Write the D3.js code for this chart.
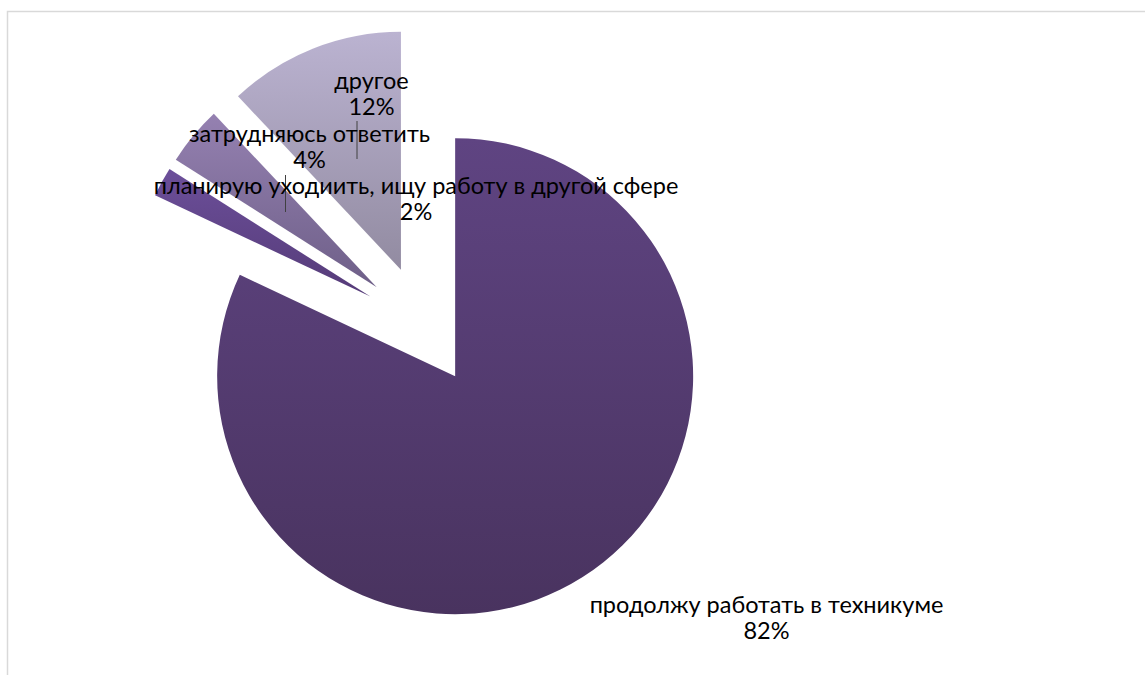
<!DOCTYPE html>
<html>
<head>
<meta charset="utf-8">
<script src="https://cdn.jsdelivr.net/npm/d3@7/dist/d3.min.js"></script>
<style>
  html, body { margin: 0; padding: 0; background: #ffffff; }
  svg { display: block; }
  text { font-family: Lato, "Open Sans", sans-serif; fill: #000000; }
</style>
</head>
<body>
<svg id="chart" width="1145" height="675"></svg>
<script>
// ---- data ----
const categories = [
  "продолжу работать в техникуме",
  "планирую уходиить, ищу работу в другой сфере",
  "затрудняюсь ответить",
  "другое"
];
const values = [82, 2, 4, 12];
const percentLabels = ["82%", "2%", "4%", "12%"];

// ---- styles / layout ----
const gradTop = ["#5f4482", "#6c4f9a", "#9581b1", "#bbb3d1"];
const gradBot = ["#49335f", "#553b78", "#6e5f88", "#928ba1"];
const cx = 423, cy = 325.5, radius = 238, explode = 60;
const fontSize = 23.5, lineGap = 26;
// label anchor (centre x, baseline of first line) for each slice
const labelPos = [[766.5, 613], [416, 194], [309.5, 142], [371.5, 89]];
// leader lines [x, y1, y2] (null = none)
const leaders = [null, [285.5, 175, 212], null, [357, 121, 159]];

const svg = d3.select("#chart");

// frame
svg.append("rect")
  .attr("x", 7.5).attr("y", 11.5)
  .attr("width", 1150).attr("height", 680)
  .attr("fill", "none").attr("stroke", "#d9d9d9").attr("stroke-width", 1.5);

const defs = svg.append("defs");
categories.forEach((c, i) => {
  const g = defs.append("linearGradient").attr("id", "g" + i)
    .attr("x1", 0).attr("y1", 0).attr("x2", 0).attr("y2", 1);
  g.append("stop").attr("offset", "0%").attr("stop-color", gradTop[i]);
  g.append("stop").attr("offset", "100%").attr("stop-color", gradBot[i]);
});

const pie = d3.pie().sort(null).value(d => d.v).startAngle(0).endAngle(2 * Math.PI);
const arcs = pie(values.map((v, i) => ({ v, i })));
const arc = d3.arc().innerRadius(0).outerRadius(radius);

const gPie = svg.append("g").attr("transform", `translate(${cx},${cy})`);
gPie.selectAll("path").data(arcs).join("path")
  .attr("d", arc)
  .attr("fill", d => `url(#g${d.data.i})`)
  .attr("transform", d => {
    const mid = (d.startAngle + d.endAngle) / 2;
    return `translate(${explode * Math.sin(mid)},${-explode * Math.cos(mid)})`;
  });

// leader lines
leaders.forEach(l => {
  if (!l) return;
  svg.append("line")
    .attr("x1", l[0]).attr("x2", l[0]).attr("y1", l[1]).attr("y2", l[2])
    .attr("stroke", "#404040").attr("stroke-width", 1);
});

// labels
categories.forEach((c, i) => {
  const t = svg.append("text")
    .attr("text-anchor", "middle")
    .attr("font-size", fontSize)
    .attr("x", labelPos[i][0]).attr("y", labelPos[i][1]);
  t.append("tspan").attr("x", labelPos[i][0]).text(c);
  t.append("tspan").attr("x", labelPos[i][0]).attr("dy", lineGap).text(percentLabels[i]);
});
</script>
</body>
</html>
